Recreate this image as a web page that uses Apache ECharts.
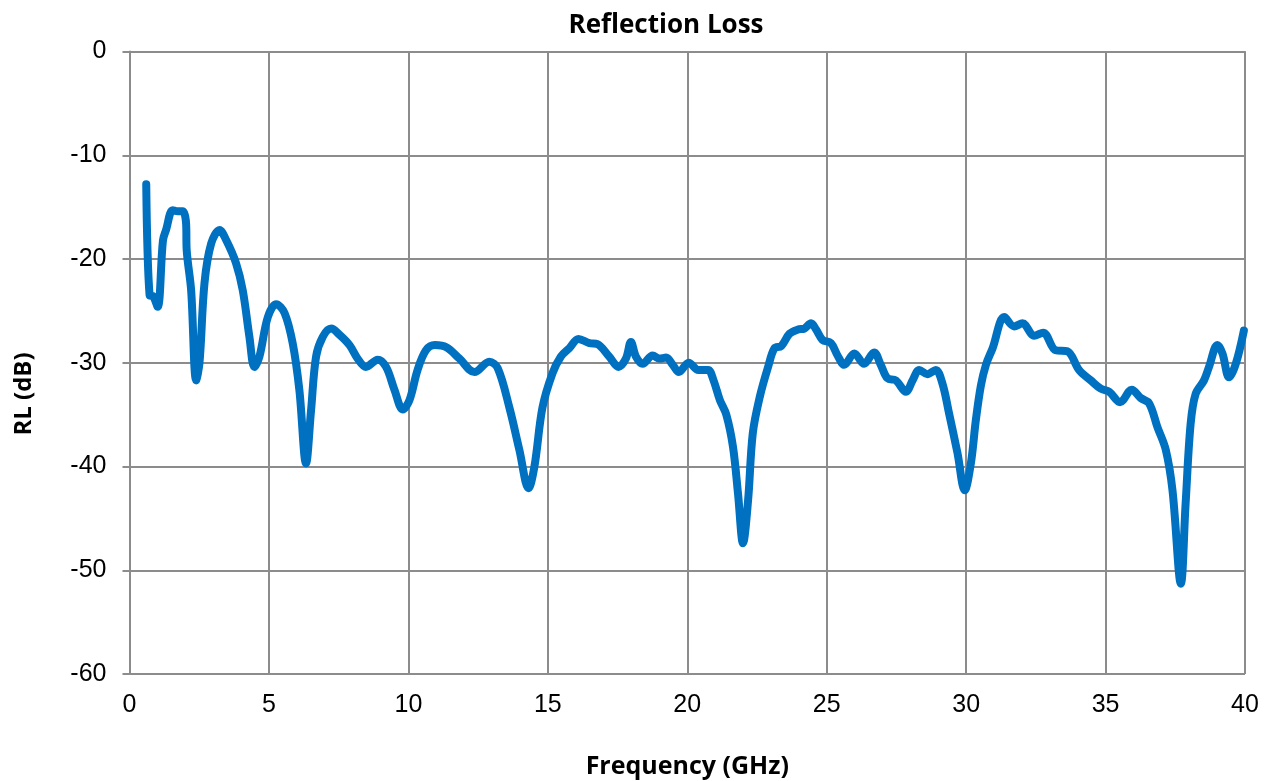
<!DOCTYPE html>
<html>
<head>
<meta charset="utf-8">
<script src="https://cdn.jsdelivr.net/npm/echarts@6/dist/echarts.min.js"></script>
<style>html,body{margin:0;padding:0;background:#fff;}#c{width:1264px;height:781px;}</style>
</head>
<body>
<div id="c"></div>
<script>
const freq = [0.6,0.72,0.85,1.01,1.2,1.31,1.55,1.73,1.91,2.03,2.05,2.21,2.39,2.51,2.69,2.93,3.23,3.47,3.82,4.06,4.3,4.48,4.66,4.96,5.26,5.56,5.85,6.09,6.33,6.51,6.69,6.93,7.23,7.53,7.89,8.18,8.48,8.9,9.2,9.5,9.8,10.04,10.33,10.63,10.95,11.36,11.83,12.37,12.9,13.2,13.62,13.98,14.31,14.52,14.81,15.17,15.47,15.77,16.1,16.49,16.78,17.2,17.54,17.8,17.98,18.16,18.4,18.76,19.0,19.24,19.48,19.7,20.05,20.4,20.75,20.93,21.17,21.4,21.64,21.82,22.0,22.18,22.35,22.6,22.9,23.13,23.37,23.67,23.97,24.2,24.44,24.62,24.85,25.15,25.39,25.63,25.99,26.34,26.7,26.94,27.18,27.48,27.84,28.08,28.32,28.61,28.91,29.15,29.39,29.69,29.95,30.17,30.35,30.53,30.71,30.95,31.37,31.72,32.02,32.44,32.76,33.21,33.63,34.05,34.47,34.83,35.13,35.52,35.94,36.26,36.56,36.86,37.16,37.4,37.7,37.87,38.05,38.23,38.53,38.71,39.01,39.19,39.43,39.67,39.96];
const rl = [-12.8,-23.5,-23.6,-24.6,-18.2,-17.2,-15.3,-15.4,-15.4,-16.6,-19.1,-23,-31.7,-30,-22.3,-18.5,-17.2,-18.2,-20.4,-23,-27.5,-30.4,-29.4,-25.6,-24.35,-25.2,-28.1,-32.6,-39.7,-34.6,-29.4,-27.5,-26.7,-27.3,-28.3,-29.6,-30.4,-29.7,-30.4,-32.6,-34.5,-33.6,-30.7,-28.8,-28.3,-28.5,-29.6,-30.9,-29.9,-30.5,-34.3,-38.4,-42.1,-40,-34.3,-31,-29.4,-28.6,-27.7,-28.1,-28.2,-29.4,-30.4,-29.6,-28,-29.4,-30.1,-29.3,-29.6,-29.5,-30.2,-30.9,-30,-30.7,-30.7,-31.6,-33.6,-35,-38.1,-42.6,-47.4,-43.3,-36.8,-33.3,-30.4,-28.6,-28.4,-27.2,-26.8,-26.7,-26.2,-26.8,-27.8,-28.1,-29.3,-30.2,-29.1,-30.1,-29,-30.2,-31.5,-31.7,-32.8,-31.7,-30.7,-31.1,-30.7,-32,-34.9,-38.7,-42.3,-39.7,-35.5,-32.2,-30.2,-28.6,-25.6,-26.5,-26.2,-27.4,-27.1,-28.8,-28.9,-30.7,-31.7,-32.5,-32.8,-33.8,-32.6,-33.4,-33.9,-36.2,-38.4,-42.3,-51.3,-43.6,-35.9,-33,-31.7,-30.4,-28.3,-29.1,-31.4,-30.1,-26.9];
const titleText = 'Reflection Loss';
const xName = 'Frequency (GHz)';
const yName = 'RL (dB)';

const chart = echarts.init(document.getElementById('c'));
const gridColor = '#8c8c8c';
const boldFont = 'Open Sans';
chart.setOption({
  animation: false,
  backgroundColor: '#fff',
  title: {
    text: titleText, left: 661, top: 8, textAlign: 'center',
    textStyle: {fontFamily: boldFont, fontWeight: 'bold', fontSize: 26, color: '#000'}
  },
  graphic: [{
    type: 'text', x: 24, y: 394, rotation: Math.PI / 2,
    style: {text: yName, fontFamily: boldFont, fontWeight: 'bold', fontSize: 24,
      fill: '#000', align: 'center', verticalAlign: 'middle'}
  }],
  grid: {left: 129.5, right: 19, top: 51.5, bottom: 107, containLabel: false, outerBoundsMode: 'none'},
  xAxis: {
    type: 'value', min: 0, max: 40, interval: 5,
    name: xName, nameLocation: 'middle', nameGap: 80,
    nameTextStyle: {fontFamily: boldFont, fontWeight: 'bold', fontSize: 25, color: '#000'},
    axisLine: {show: true, lineStyle: {color: gridColor, width: 2}},
    axisTick: {show: false},
    axisLabel: {fontFamily: 'Liberation Sans', fontSize: 25, color: '#000', margin: 19},
    splitLine: {show: true, lineStyle: {color: gridColor, width: 2}}
  },
  yAxis: {
    type: 'value', min: -60, max: 0, interval: 10,
    axisLine: {show: true, onZero: false, lineStyle: {color: gridColor, width: 2}},
    axisTick: {show: true, inside: false, length: 7, lineStyle: {color: gridColor, width: 2}},
    axisLabel: {fontFamily: 'Liberation Sans', fontSize: 25, color: '#000', margin: 23},
    splitLine: {show: true, lineStyle: {color: gridColor, width: 2}}
  },
  series: [{
    type: 'line',
    data: freq.map((f, i) => [f, rl[i]]),
    showSymbol: false,
    smooth: 0.35,
    lineStyle: {color: '#0070C0', width: 8, cap: 'round', join: 'round'},
    itemStyle: {color: '#0070C0'}
  }]
});
</script>
</body>
</html>
